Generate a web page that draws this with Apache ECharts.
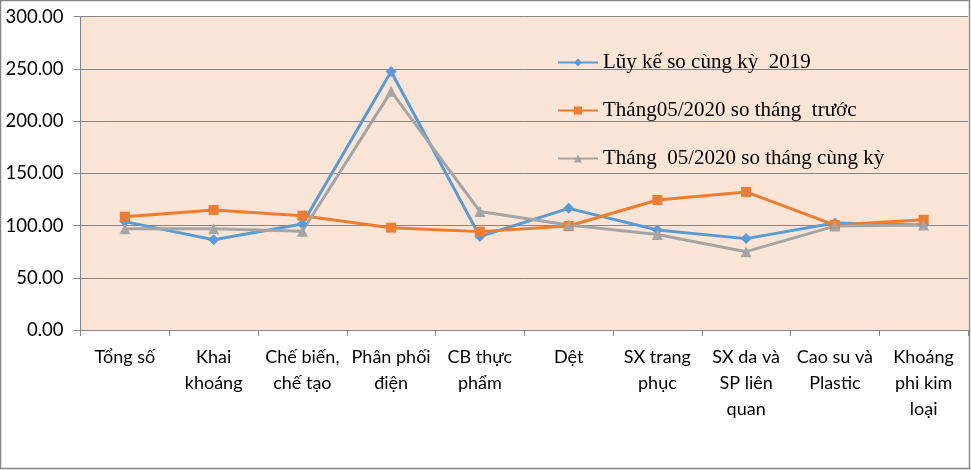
<!DOCTYPE html>
<html>
<head>
<meta charset="utf-8">
<script src="https://cdn.jsdelivr.net/npm/echarts@6/dist/echarts.min.js"></script>
<style>
  html, body { margin: 0; padding: 0; background: #fff; }
  #chart { width: 971px; height: 470px; }
</style>
</head>
<body>
<div id="chart"></div>
<script>
// nhóm ngành
var categories = ['Tổng số', 'Khai\nkhoáng', 'Chế biến,\nchế tạo', 'Phân phối\nđiện', 'CB thực\nphẩm',
  'Dệt', 'SX trang\nphục', 'SX da và\nSP liên\nquan', 'Cao su và\nPlastic', 'Khoáng\nphi kim\nloại'];

var seriesNames = ['Lũy kế so cùng kỳ  2019', 'Tháng05/2020 so tháng  trước', 'Tháng  05/2020 so tháng cùng kỳ'];

var luyKe = [103.8, 86.5, 101.5, 247.5, 89.5, 116.5, 95.8, 87.5, 102.5, 100.5];
var soThangTruoc = [108.5, 115.0, 109.5, 98.0, 94.2, 99.6, 124.5, 132.2, 100.5, 105.5];
var soCungKy = [97.0, 97.0, 94.5, 228.5, 113.5, 100.5, 91.5, 75.0, 99.5, 100.5];

var yTicks = [0, 50, 100, 150, 200, 250, 300];

var colors = ['#5B9BD5', '#ED7D31', '#A5A5A5'];

var chart = echarts.init(document.getElementById('chart'));

function makeLine(name, data, symbol, size, color) {
  return {
    name: name,
    type: 'line',
    data: data,
    symbol: symbol,
    symbolSize: size,
    showSymbol: true,
    itemStyle: { color: color },
    lineStyle: { color: color, width: 3 },
    emphasis: { disabled: true }
  };
}

chart.setOption({
  animation: false,
  backgroundColor: '#fff',
  graphic: [{
    type: 'rect',
    shape: { x: 0.5, y: 0.5, width: 969, height: 468 },
    style: { fill: 'none', stroke: '#868686', lineWidth: 1.5 },
    z: 100
  }],
  grid: {
    left: 80.5,
    top: 16.7,
    right: 3,
    bottom: 140,
    show: true,
    backgroundColor: '#FBE5D6',
    borderWidth: 0
  },
  legend: {
    orient: 'vertical',
    left: 552,
    top: 46,
    itemGap: 25,
    itemWidth: 40,
    itemHeight: 10,
    data: seriesNames,
    textStyle: {
      fontFamily: '"Liberation Serif", "DejaVu Serif", serif',
      fontSize: 21,
      lineHeight: 23,
      color: '#000'
    }
  },
  xAxis: {
    type: 'category',
    data: categories,
    boundaryGap: true,
    axisLine: { lineStyle: { color: '#868686', width: 1 } },
    axisTick: { show: true, alignWithLabel: false, length: 6, lineStyle: { color: '#868686' } },
    axisLabel: {
      interval: 0,
      margin: 14,
      fontFamily: 'Lato, "Open Sans", sans-serif',
      fontSize: 18,
      lineHeight: 26,
      color: '#000'
    }
  },
  yAxis: {
    type: 'value',
    min: yTicks[0],
    max: yTicks[yTicks.length - 1],
    interval: 50,
    axisLine: { show: true, lineStyle: { color: '#868686', width: 1 } },
    axisTick: { show: true, length: 7, lineStyle: { color: '#868686' } },
    splitLine: { lineStyle: { color: '#868686', width: 1 } },
    axisLabel: {
      margin: 17,
      fontFamily: 'Lato, "Open Sans", sans-serif',
      fontSize: 18.5,
      color: '#000',
      formatter: function (v) { return v.toFixed(2); }
    }
  },
  series: [
    makeLine(seriesNames[0], luyKe, 'diamond', 11, colors[0]),
    makeLine(seriesNames[1], soThangTruoc, 'rect', 10, colors[1]),
    makeLine(seriesNames[2], soCungKy, 'triangle', 11, colors[2])
  ]
});
</script>
</body>
</html>
